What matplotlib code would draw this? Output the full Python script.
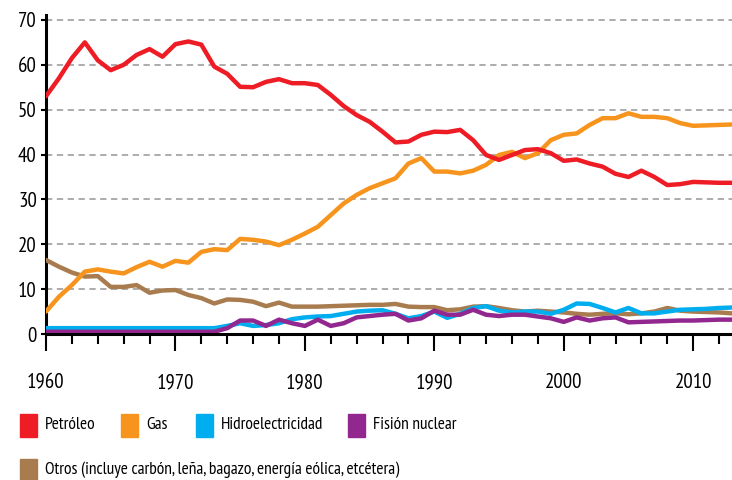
import matplotlib
matplotlib.use("Agg")
import matplotlib.pyplot as plt
from matplotlib.patches import Rectangle

plt.rcParams['font.family'] = ['PT Sans Narrow', 'DejaVu Sans']

# Datos (porcentaje del consumo de energía)
anios = list(range(1960, 2014))
petroleo = [53, 57, 61.5, 65, 61, 58.8, 60, 62.2, 63.5, 61.8,
            64.6, 65.2, 64.5, 59.6, 58, 55.1, 55, 56.2, 56.8, 55.9,
            55.9, 55.5, 53.3, 50.8, 48.8, 47.3, 45.1, 42.7, 42.9, 44.4,
            45.1, 45, 45.5, 43.2, 39.9, 38.8, 39.9, 41, 41.2, 40.3,
            38.6, 38.9, 38, 37.3, 35.7, 35, 36.4, 35, 33.2, 33.4,
            33.9, 33.8, 33.7, 33.7]
gas = [5, 8.3, 10.9, 13.9, 14.4, 13.9, 13.5, 14.9, 16.1, 15,
       16.3, 15.9, 18.3, 18.9, 18.7, 21.2, 21, 20.6, 19.8, 21,
       22.4, 23.9, 26.5, 29.1, 31, 32.5, 33.6, 34.7, 38, 39.2,
       36.2, 36.2, 35.8, 36.4, 37.7, 39.9, 40.6, 39.2, 40.3, 43.2,
       44.4, 44.7, 46.6, 48.1, 48.1, 49.2, 48.4, 48.4, 48.1, 47,
       46.4, 46.5, 46.6, 46.7]
hidro = [1.3] * 14 + [1.8, 2.4, 1.8, 2, 2.4, 3.3,
                      3.7, 3.9, 4, 4.5, 5, 5.2, 5.3, 4.5, 3.5, 4,
                      5, 3.6, 4.5, 5.8, 6.2, 5.2, 4.8, 5, 5, 4.5,
                      5.4, 6.8, 6.7, 5.8, 4.8, 5.8, 4.6, 4.6, 5, 5.4,
                      5.5, 5.6, 5.8, 5.9]
nuclear = [0.5] * 14 + [1.3, 3, 3, 1.8, 3.2, 2.4,
                        1.8, 3.2, 1.8, 2.4, 3.7, 4, 4.3, 4.5, 3, 3.5,
                        5.2, 4.3, 4.3, 5.4, 4.3, 4, 4.3, 4.3, 3.9, 3.5,
                        2.7, 3.7, 3, 3.5, 3.7, 2.6, 2.7, 2.8, 2.9, 3,
                        3, 3.1, 3.2, 3.2]
otros = [16.5, 15, 13.7, 12.8, 12.9, 10.5, 10.5, 10.9, 9.2, 9.7,
         9.8, 8.7, 8, 6.8, 7.7, 7.6, 7.2, 6.2, 7, 6.1,
         6.1, 6.1, 6.2, 6.3, 6.4, 6.5, 6.5, 6.7, 6.1, 6,
         6, 5.3, 5.5, 6.1, 6.2, 5.8, 5.3, 5, 5.2, 5,
         4.8, 4.5, 4.3, 4.5, 4.6, 4.4, 4.6, 5, 5.8, 5.2,
         5, 4.9, 4.8, 4.6]

series = [("Otros (incluye carbón, leña, bagazo, energía eólica, etcétera)", otros, "#A97C50"),
          ("Hidroelectricidad", hidro, "#00AEEF"),
          ("Fisión nuclear", nuclear, "#92278F"),
          ("Gas", gas, "#F7941D"),
          ("Petróleo", petroleo, "#EE1C25")]
colores = {nombre: c for nombre, _, c in series}

fig = plt.figure(figsize=(7.32, 4.8), dpi=100)
ax = fig.add_axes([46 / 732, 146 / 480, 1 - 46 / 732, 319 / 480])

for y in range(10, 80, 10):
    ax.axhline(y, color="#A6A6A6", lw=1.3, ls=(0, (3.5, 2.5)), zorder=0)

for nombre, valores, c in series:
    ax.plot(anios, valores, color=c, lw=3.2, solid_joinstyle="round",
            solid_capstyle="round", zorder=3)

ax.set_xlim(1960, 2013)
ax.set_ylim(0, 71.1)
ax.set_yticks(range(0, 80, 10))
ax.set_xticks(range(1960, 2020, 10))
ax.set_xticks(range(1960, 2014, 2), minor=True)
ax.tick_params(axis="y", length=3.6, width=1.5, labelsize=15, pad=3)
ax.tick_params(axis="x", which="major", length=12.2, width=1.5, labelsize=15, pad=16)
ax.tick_params(axis="x", which="minor", length=7.2, width=1.5)
for s in ["top", "right"]:
    ax.spines[s].set_visible(False)
ax.spines["left"].set_linewidth(2.2)
ax.spines["bottom"].set_linewidth(2.2)
ax.spines["bottom"].set_zorder(5)

# Leyenda
fila1 = [("Petróleo", 20), ("Gas", 121), ("Hidroelectricidad", 196), ("Fisión nuclear", 348)]
fila2 = [("Otros (incluye carbón, leña, bagazo, energía eólica, etcétera)", 20)]
for fila, yc in [(fila1, 425), (fila2, 470)]:
    for nombre, x0 in fila:
        fig.add_artist(Rectangle((x0 / 732, 1 - (yc + 11.5) / 480), 17 / 732, 23 / 480,
                                 color=colores[nombre], transform=fig.transFigure))
        fig.text((x0 + 25) / 732, 1 - yc / 480, nombre, fontsize=12.5, va="center", ha="left")

fig.savefig("out.png", dpi=100)
